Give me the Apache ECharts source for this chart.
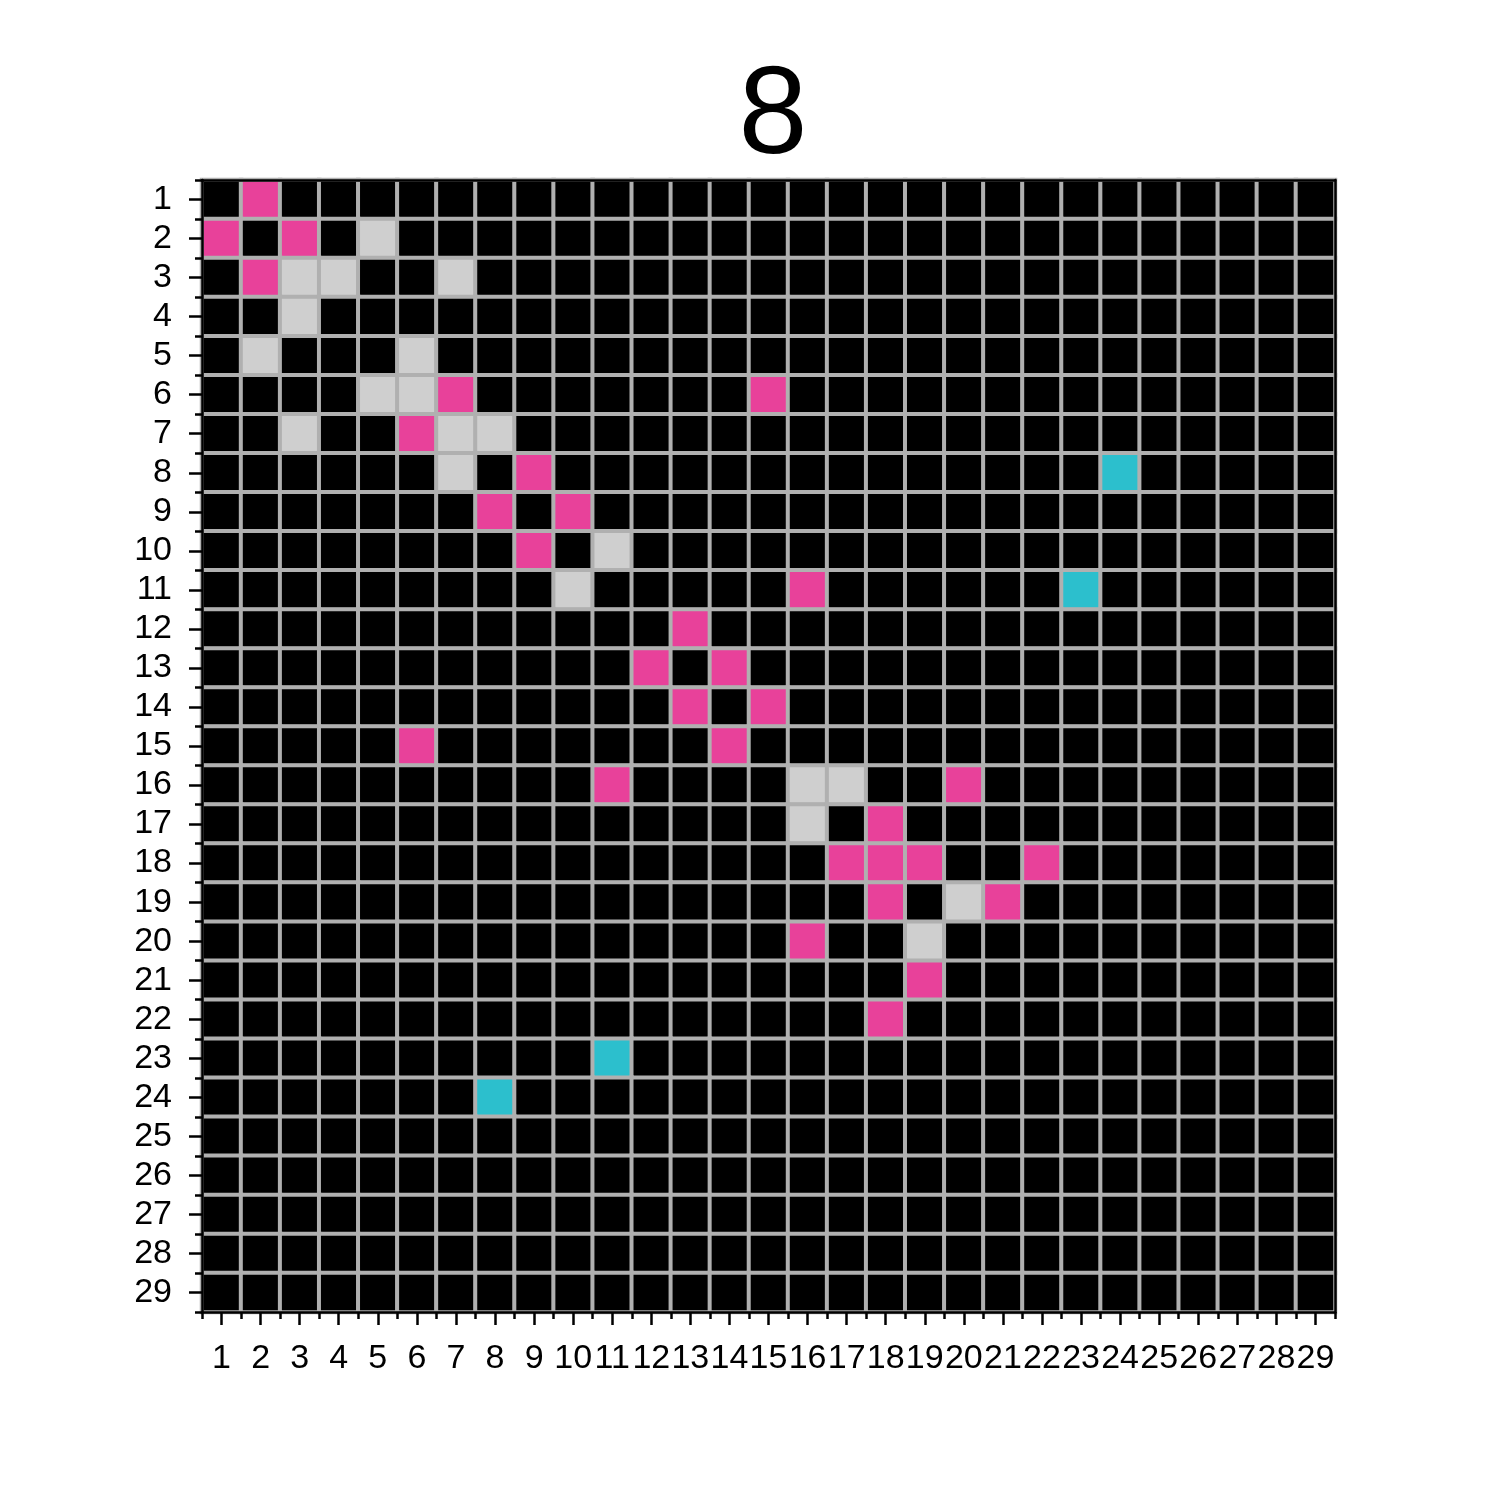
<!DOCTYPE html>
<html>
<head>
<meta charset="utf-8">
<script src="https://cdn.jsdelivr.net/npm/echarts@6/dist/echarts.min.js"></script>
<style>html,body{margin:0;padding:0;background:#fff;}#c{width:1500px;height:1500px;}</style>
</head>
<body>
<div id="c"></div>
<script>
const titleText = '8';
const labels = Array.from({length: 29}, (_, i) => String(i + 1));
// [row, col] (1-based) of coloured cells
const pinkCells = [[1,2],[2,1],[2,3],[3,2],[6,7],[6,15],[7,6],[8,9],[9,8],[9,10],[10,9],[11,16],[12,13],[13,12],[13,14],[14,13],[14,15],[15,6],[15,14],[16,11],[16,20],[17,18],[18,17],[18,18],[18,19],[18,22],[19,18],[19,21],[20,16],[21,19],[22,18]];
const grayCells = [[2,5],[3,3],[3,4],[3,7],[4,3],[5,2],[5,6],[6,5],[6,6],[7,3],[7,7],[7,8],[8,7],[10,11],[11,10],[16,16],[16,17],[17,16],[19,20],[20,19]];
const cyanCells = [[8,24],[11,23],[23,11],[24,8]];
const cellColors = ['#000000', '#e8419a', '#cfcfcf', '#2cbfcd'];

const grid = [];
for (let r = 0; r < 29; r++) { grid.push(new Array(29).fill(0)); }
pinkCells.forEach(([r, c]) => grid[r-1][c-1] = 1);
grayCells.forEach(([r, c]) => grid[r-1][c-1] = 2);
cyanCells.forEach(([r, c]) => grid[r-1][c-1] = 3);
const data = [];
for (let r = 0; r < 29; r++) for (let c = 0; c < 29; c++) {
  data.push({value: [c, r, grid[r][c]], itemStyle: {color: cellColors[grid[r][c]]}});
}

const font = "'Liberation Sans', Arial, sans-serif";
const chart = echarts.init(document.getElementById('c'), null, {renderer: 'canvas'});
const axisLineStyle = {color: '#000', width: 2.5};
chart.setOption({
  backgroundColor: '#fff',
  animation: false,
  title: {text: titleText, left: 768, top: 52, textAlign: 'center',
    textStyle: {fontFamily: font, fontSize: 124, fontWeight: 'normal', color: '#000'}},
  grid: {left: 202, top: 180, width: 1133, height: 1132},
  xAxis: [
    {type: 'category', data: labels, position: 'bottom', boundaryGap: true,
     axisLine: {show: true, lineStyle: axisLineStyle, onZero: false},
     axisTick: {show: true, alignWithLabel: true, length: 13, lineStyle: {color: '#000', width: 2.5}},
     axisLabel: {show: true, interval: 0, margin: 30, fontFamily: font, fontSize: 34, color: '#000'},
     splitLine: {show: false}, z: 10},
    {type: 'category', data: labels, position: 'bottom', boundaryGap: true,
     axisLine: {show: false},
     axisTick: {show: true, interval: 0, length: 7, lineStyle: {color: '#000', width: 2.5}},
     axisLabel: {show: false}, splitLine: {show: false}, z: 10},
    {type: 'category', data: labels, position: 'top', boundaryGap: true,
     axisLine: {show: true, lineStyle: axisLineStyle, onZero: false},
     axisTick: {show: false}, axisLabel: {show: false}, splitLine: {show: false}, z: 10}
  ],
  yAxis: [
    {type: 'category', data: labels, inverse: true, position: 'left', boundaryGap: true,
     axisLine: {show: true, lineStyle: axisLineStyle, onZero: false},
     axisTick: {show: true, alignWithLabel: true, length: 13, lineStyle: {color: '#000', width: 2.5}},
     axisLabel: {show: true, interval: 0, margin: 30, fontFamily: font, fontSize: 34, color: '#000'},
     splitLine: {show: false}, z: 10},
    {type: 'category', data: labels, inverse: true, position: 'left', boundaryGap: true,
     axisLine: {show: false},
     axisTick: {show: true, interval: 0, length: 7, lineStyle: {color: '#000', width: 2.5}},
     axisLabel: {show: false}, splitLine: {show: false}, z: 10},
    {type: 'category', data: labels, inverse: true, position: 'right', boundaryGap: true,
     axisLine: {show: true, lineStyle: axisLineStyle, onZero: false},
     axisTick: {show: false}, axisLabel: {show: false}, splitLine: {show: false}, z: 10}
  ],
  series: [{
    type: 'heatmap', xAxisIndex: 0, yAxisIndex: 0, data: data,
    itemStyle: {borderColor: '#b0b0b0', borderWidth: 4},
    emphasis: {disabled: true}, label: {show: false}
  }]
});
</script>
</body>
</html>
